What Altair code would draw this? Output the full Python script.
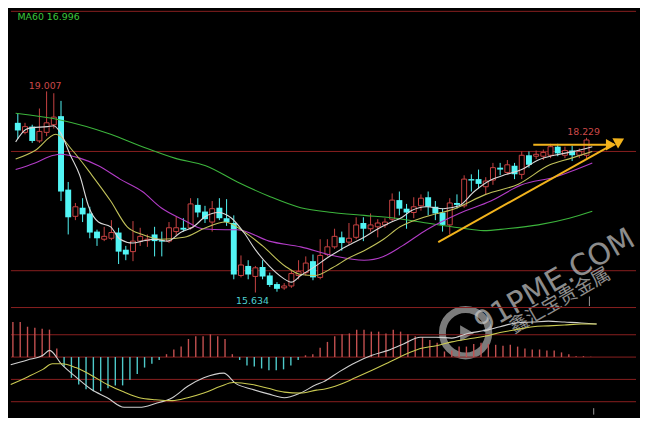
import altair as alt
import pandas as pd

# ---------------- data ----------------
opens = [18.48, 18.32, 18.416, 18.176, 18.32, 18.448, 18.592, 17.36, 16.912, 17.056,
         16.96, 16.656, 16.528, 16.544, 16.64, 16.352, 16.32, 16.496, 16.504, 16.608,
         16.512, 16.496, 16.656, 16.72, 16.72, 17.104, 16.992, 16.816, 17.056, 16.88,
         16.8, 15.92, 16.08, 15.904, 16.064, 15.92, 15.776, 15.712, 15.744, 15.92,
         15.968, 16.16, 15.888, 16.272, 16.4, 16.56, 16.48, 16.56, 16.8, 16.704,
         16.736, 16.768, 16.864, 17.184, 17.04, 16.976, 17.088, 17.232, 17.072, 16.976,
         16.768, 17.136, 17.088, 17.536, 17.536, 17.408, 17.52, 17.728, 17.648, 17.76,
         17.616, 17.936, 17.92, 17.92, 17.936, 18.08, 17.936, 18.016, 17.936, 17.936]
highs = [18.64, 18.48, 18.448, 18.72, 19.007, 18.976, 18.848, 17.488, 17.136, 17.216,
         17.072, 16.688, 16.736, 16.848, 16.72, 16.416, 16.832, 16.72, 16.608, 16.736,
         16.656, 16.816, 16.912, 16.88, 17.216, 17.216, 17.088, 17.168, 17.216, 17.2,
         16.928, 16.256, 16.176, 16.08, 16.176, 15.968, 15.808, 15.792, 16.016, 16.176,
         16.24, 16.272, 16.528, 16.528, 16.704, 16.656, 16.8, 16.896, 16.896, 16.96,
         16.864, 16.88, 17.296, 17.328, 17.12, 17.232, 17.28, 17.328, 17.168, 17.04,
         17.216, 17.28, 17.6, 17.616, 17.696, 17.568, 17.808, 17.808, 17.856, 17.808,
         18.0, 18.0, 18.016, 18.032, 18.128, 18.128, 18.08, 18.096, 18.048, 18.229]
lows = [18.208, 18.288, 18.144, 18.144, 18.256, 18.384, 17.168, 16.608, 16.848, 16.816,
        16.544, 16.416, 16.496, 16.512, 16.112, 16.176, 16.16, 16.416, 16.4, 16.24,
        16.24, 16.464, 16.576, 16.656, 16.688, 16.896, 16.8, 16.656, 16.848, 16.752,
        15.856, 15.888, 15.856, 15.634, 15.856, 15.728, 15.648, 15.68, 15.712, 15.856,
        15.92, 15.84, 15.856, 16.24, 16.368, 16.336, 16.432, 16.528, 16.496, 16.656,
        16.56, 16.72, 16.832, 16.928, 16.704, 16.88, 17.008, 16.928, 16.848, 16.656,
        16.608, 17.04, 17.056, 17.328, 17.376, 17.28, 17.44, 17.6, 17.616, 17.536,
        17.536, 17.728, 17.872, 17.856, 17.888, 17.92, 17.888, 17.84, 17.888, 17.888]
closes = [18.352, 18.416, 18.176, 18.336, 18.48, 18.576, 17.328, 16.896, 17.072, 16.944,
          16.64, 16.544, 16.576, 16.64, 16.32, 16.272, 16.496, 16.576, 16.528, 16.496,
          16.488, 16.72, 16.72, 16.688, 17.12, 16.976, 16.864, 17.04, 16.88, 16.816,
          15.936, 16.096, 15.936, 16.048, 15.904, 15.76, 15.696, 15.744, 15.952, 15.984,
          16.128, 15.888, 16.256, 16.4, 16.576, 16.464, 16.544, 16.768, 16.704, 16.768,
          16.8, 16.816, 17.184, 17.04, 16.976, 17.072, 17.216, 17.072, 16.96, 16.768,
          17.136, 17.104, 17.536, 17.512, 17.456, 17.504, 17.728, 17.696, 17.776, 17.616,
          17.936, 17.776, 17.952, 17.984, 18.08, 17.968, 18.016, 17.936, 18.0, 18.192]

macd_hist = [0.157, 0.157, 0.136, 0.131, 0.127, 0.123, 0.038, -0.042, -0.093, -0.123,
             -0.144, -0.153, -0.153, -0.140, -0.127, -0.127, -0.102, -0.076, -0.047, -0.030,
             -0.013, 0.013, 0.034, 0.047, 0.081, 0.093, 0.093, 0.102, 0.093, 0.081,
             0.013, -0.013, -0.038, -0.042, -0.051, -0.059, -0.059, -0.055, -0.038, -0.013,
             0.008, 0.013, 0.042, 0.068, 0.093, 0.102, 0.106, 0.123, 0.123, 0.114,
             0.114, 0.106, 0.123, 0.114, 0.102, 0.093, 0.089, 0.076, 0.064, 0.025,
             0.030, 0.047, 0.047, 0.059, 0.064, 0.059, 0.055, 0.051, 0.055, 0.047,
             0.038, 0.034, 0.034, 0.030, 0.030, 0.021, 0.013, 0.004, 0.004, 0.002]

# moving averages (bar index, value)
ma5 = [(-0.3, 18.16), (1.1, 18.368), (2.0, 18.4), (4.1, 18.416), (5.0, 18.432), (5.9, 18.32),
       (7.3, 17.936), (8.6, 17.6), (9.9, 17.056), (11.2, 16.816), (12.9, 16.736), (14.2, 16.528),
       (16.0, 16.464), (17.3, 16.496), (19.1, 16.528), (20.8, 16.496), (22.6, 16.64), (24.4, 16.736),
       (26.1, 16.912), (27.8, 16.976), (29.7, 16.88), (31.4, 16.64), (33.1, 16.336), (34.9, 16.08),
       (36.7, 15.888), (38.0, 15.808), (39.3, 15.92), (41.0, 16.048), (42.9, 16.208), (44.6, 16.336),
       (46.3, 16.448), (48.1, 16.56), (49.8, 16.688), (51.6, 16.8), (53.4, 16.896), (54.7, 17.008),
       (56.8, 17.072), (59.1, 17.04), (61.3, 17.088), (63.4, 17.328), (65.7, 17.52), (67.9, 17.616),
       (70.0, 17.696), (72.3, 17.856), (74.5, 17.936), (76.6, 17.984), (79.8, 18.08)]
ma10 = [(-0.3, 17.872), (2.4, 18.016), (5.3, 18.288), (7.6, 18.016), (10.3, 17.6), (12.9, 17.168),
        (15.2, 16.736), (17.3, 16.608), (19.9, 16.528), (23.1, 16.56), (26.1, 16.72), (28.8, 16.816),
        (31.4, 16.656), (34.0, 16.416), (37.1, 16.08), (39.3, 15.936), (41.3, 15.92), (43.7, 16.048),
        (45.9, 16.208), (48.1, 16.336), (50.8, 16.528), (53.1, 16.736), (56.4, 16.896), (60.7, 17.04),
        (65.0, 17.28), (69.6, 17.456), (73.9, 17.776), (76.9, 17.888), (79.8, 18.0)]
ma30 = [(-0.3, 17.696), (2.4, 17.808), (5.0, 17.936), (5.9, 17.952), (8.6, 17.888), (11.2, 17.76),
        (14.2, 17.536), (17.3, 17.328), (19.9, 17.056), (23.1, 16.848), (25.7, 16.704), (28.8, 16.688),
        (30.5, 16.688), (34.9, 16.496), (39.3, 16.4), (43.7, 16.256), (48.1, 16.176), (50.8, 16.24),
        (53.4, 16.416), (56.8, 16.688), (61.3, 16.96), (65.7, 17.168), (70.0, 17.44), (74.5, 17.568),
        (79.8, 17.808)]
ma60 = [(-0.3, 18.64), (5.9, 18.528), (12.9, 18.288), (17.3, 18.08), (21.8, 17.888), (26.1, 17.76),
        (30.5, 17.488), (34.9, 17.248), (39.3, 17.056), (43.7, 16.976), (48.1, 16.928), (52.5, 16.88),
        (56.8, 16.8), (61.3, 16.72), (64.7, 16.672), (67.9, 16.704), (72.3, 16.768), (76.6, 16.88),
        (79.8, 16.996)]

dif = [(-0.3, -0.034), (2.0, -0.013), (4.1, 0.008), (5.0, 0.030), (6.7, -0.034), (8.6, -0.089),
       (10.7, -0.144), (12.9, -0.182), (15.2, -0.225), (17.3, -0.225), (19.5, -0.208), (21.8, -0.182),
       (23.9, -0.131), (26.1, -0.093), (28.8, -0.072), (30.5, -0.119), (32.7, -0.144), (34.9, -0.165),
       (37.1, -0.182), (39.3, -0.161), (41.5, -0.123), (42.5, -0.110), (44.7, -0.064), (46.8, -0.025),
       (49.1, 0.008), (51.3, 0.030), (53.4, 0.059), (55.7, 0.089), (57.9, 0.089), (60.0, 0.085),
       (62.2, 0.106), (64.5, 0.119), (66.6, 0.136), (68.8, 0.153), (71.1, 0.157), (73.2, 0.161),
       (75.4, 0.157), (77.7, 0.153), (79.8, 0.148)]
dea = [(-0.3, -0.123), (2.0, -0.089), (4.1, -0.055), (5.4, -0.030), (6.7, -0.030), (8.6, -0.047),
       (10.7, -0.081), (12.9, -0.123), (15.2, -0.157), (17.3, -0.182), (19.5, -0.191), (21.8, -0.195),
       (23.9, -0.182), (26.1, -0.161), (28.4, -0.131), (30.1, -0.114), (32.7, -0.123), (34.9, -0.140),
       (37.1, -0.157), (39.3, -0.161), (41.5, -0.148), (42.5, -0.144), (44.7, -0.123), (46.8, -0.093),
       (49.1, -0.059), (51.3, -0.025), (53.4, 0.008), (55.7, 0.038), (57.9, 0.051), (60.0, 0.068),
       (62.2, 0.081), (64.5, 0.093), (66.6, 0.110), (68.8, 0.123), (71.1, 0.136), (73.2, 0.140),
       (75.4, 0.144), (77.7, 0.148), (79.8, 0.148)]

price_grid = [20.35, 18.0, 16.0]
macd_grid = [0.222, 0.1, 0.0, -0.1, -0.2]

labels = [("MA60 16.996", -0.05, 20.25, "#3cc83c", "left"),
          ("19.007", 3.8, 19.10, "#cc4848", "center"),
          ("15.634", 32.6, 15.49, "#4fd0d0", "center"),
          ("18.229", 78.6, 18.32, "#cc4848", "center")]

trend_up = [(58.4, 16.48), (82.8, 18.128)]
trend_flat = [(71.6, 18.112), (81.9, 18.112)]
arrow_heads = [(83.6, 18.176, 331), (82.4, 18.112, 0)]

# ---------------- styling ----------------
W, H_MAIN, H_MACD = 632, 300, 109
X_DOMAIN = [-0.264, 85.19]
PRICE_DOMAIN = [15.392, 20.368]
MACD_DOMAIN = [-0.2585, 0.2246]
GRID = "#8a1f1f"
RED = "#c84343"
CYAN = "#52f5f5"
ORANGE = "#f2b31c"
FONT = "DejaVu Sans"
MA_COLORS = {"MA5": "#d9d9d9", "MA10": "#c2c25a", "MA30": "#b23cc6", "MA60": "#3cb43c"}

xs = alt.Scale(domain=X_DOMAIN, nice=False, zero=False)
ys = alt.Scale(domain=PRICE_DOMAIN, nice=False, zero=False)
ms = alt.Scale(domain=MACD_DOMAIN, nice=False, zero=False)

n = len(opens)
cdf = pd.DataFrame({"idx": list(range(n)), "open": opens, "high": highs,
                    "low": lows, "close": closes})
cdf["dir"] = ["up" if c >= o else "down" for o, c in zip(opens, closes)]
cdf["col"] = [RED if d == "up" else CYAN for d in cdf["dir"]]
cdf["hist"] = macd_hist
cdf["zero"] = 0.0
cdf["hcol"] = ["#c45050" if h >= 0 else "#4ecaca" for h in macd_hist]

X = alt.X("idx:Q", scale=xs, axis=None)

# ---- main panel ----
grid_main = alt.Chart(pd.DataFrame({"p": price_grid})).mark_rule(
    color=GRID, strokeWidth=1).encode(y=alt.Y("p:Q", scale=ys, axis=None))

wicks = alt.Chart(cdf).mark_rule(strokeWidth=1).encode(
    x=X, y=alt.Y("low:Q", scale=ys, axis=None), y2="high:Q",
    color=alt.Color("col:N", scale=None))

bodies_up = alt.Chart(cdf).transform_filter("datum.dir == 'up'").mark_bar(
    size=5, fill="black", stroke=RED, strokeWidth=1).encode(
    x=X, y=alt.Y("open:Q", scale=ys, axis=None), y2="close:Q")

bodies_down = alt.Chart(cdf).transform_filter("datum.dir == 'down'").mark_bar(
    size=6, color=CYAN).encode(
    x=X, y=alt.Y("open:Q", scale=ys, axis=None), y2="close:Q")

ma_rows = []
for name, pts in [("MA60", ma60), ("MA30", ma30), ("MA10", ma10), ("MA5", ma5)]:
    for k, (i, v) in enumerate(pts):
        ma_rows.append({"series": name, "idx": i, "val": v, "order": k, "col": MA_COLORS[name]})
ma_df = pd.DataFrame(ma_rows)
ma_lines = alt.Chart(ma_df).mark_line(strokeWidth=1.1, interpolate="monotone").encode(
    x=X, y=alt.Y("val:Q", scale=ys, axis=None), order="order:Q",
    color=alt.Color("col:N", scale=None), detail="series:N")

lab_df = pd.DataFrame(labels, columns=["text", "idx", "p", "color", "align"])
labels_left = alt.Chart(lab_df).transform_filter("datum.align == 'left'").mark_text(
    font=FONT, fontSize=9.5, align="left", baseline="middle").encode(
    x=X, y=alt.Y("p:Q", scale=ys, axis=None), text="text:N",
    color=alt.Color("color:N", scale=None))
labels_center = alt.Chart(lab_df).transform_filter("datum.align == 'center'").mark_text(
    font=FONT, fontSize=9.5, align="center", baseline="middle").encode(
    x=X, y=alt.Y("p:Q", scale=ys, axis=None), text="text:N",
    color=alt.Color("color:N", scale=None))

tr_rows = [{"line": "up", "idx": i, "p": p, "o": k} for k, (i, p) in enumerate(trend_up)] + \
          [{"line": "flat", "idx": i, "p": p, "o": k} for k, (i, p) in enumerate(trend_flat)]
trend = alt.Chart(pd.DataFrame(tr_rows)).mark_line(color=ORANGE, strokeWidth=2).encode(
    x=X, y=alt.Y("p:Q", scale=ys, axis=None), detail="line:N", order="o:Q")
heads = alt.Chart(pd.DataFrame(arrow_heads, columns=["idx", "p", "ang"])).mark_point(
    shape="triangle-right", filled=True, size=140, color=ORANGE, opacity=1).encode(
    x=X, y=alt.Y("p:Q", scale=ys, axis=None), angle=alt.Angle("ang:Q", scale=None))

marker_main = alt.Chart(pd.DataFrame({"idx": [79.4], "a": [15.408], "b": [15.568]})).mark_rule(
    color="#9a9a9a").encode(x=X, y=alt.Y("a:Q", scale=ys, axis=None), y2="b:Q")

# watermark
wm = pd.DataFrame({"idx": [74.6], "p": [15.82], "t": ["91PME.COM"]})
wm_text = alt.Chart(wm).mark_text(font=FONT, fontSize=30, angle=330, color="#c8c8c8",
                                  opacity=0.7, align="center", baseline="middle").encode(
    x=X, y=alt.Y("p:Q", scale=ys, axis=None), text="t:N")
wm2 = pd.DataFrame({"idx": [75.3], "p": [15.50], "t": ["鑫汇宝贵金属"]})
wm_cn = alt.Chart(wm2).mark_text(font="Noto Sans CJK SC", fontSize=19, angle=330, color="#c8c8c8",
                                 opacity=0.7, align="center", baseline="middle").encode(
    x=X, y=alt.Y("p:Q", scale=ys, axis=None), text="t:N")
ring = alt.Chart(pd.DataFrame({"idx": [62.2], "p": [14.96]})).mark_point(
    shape="circle", size=2200, filled=False, strokeWidth=7, color="#b0b0b0", opacity=0.7).encode(
    x=X, y=alt.Y("p:Q", scale=ys, axis=None))
play = alt.Chart(pd.DataFrame({"idx": [62.4], "p": [14.95]})).mark_point(
    shape="triangle-right", size=260, filled=True, color="#b0b0b0", opacity=0.7).encode(
    x=X, y=alt.Y("p:Q", scale=ys, axis=None))

main = alt.layer(grid_main, wicks, bodies_up, bodies_down, ma_lines, trend, heads,
                 labels_left, labels_center, marker_main,
                 ring, play, wm_text, wm_cn).properties(width=W, height=H_MAIN)

# ---- MACD panel ----
grid_macd = alt.Chart(pd.DataFrame({"m": macd_grid})).mark_rule(
    color=GRID, strokeWidth=1).encode(y=alt.Y("m:Q", scale=ms, axis=None))
hist = alt.Chart(cdf).mark_rule(strokeWidth=1.4).encode(
    x=X, y=alt.Y("zero:Q", scale=ms, axis=None), y2="hist:Q",
    color=alt.Color("hcol:N", scale=None))
ml_rows = [{"s": "DIF", "idx": i, "m": v, "o": k, "col": "#d0d0d0"} for k, (i, v) in enumerate(dif)] + \
          [{"s": "DEA", "idx": i, "m": v, "o": k, "col": "#caca52"} for k, (i, v) in enumerate(dea)]
macd_lines = alt.Chart(pd.DataFrame(ml_rows)).mark_line(strokeWidth=1.1, interpolate="monotone").encode(
    x=X, y=alt.Y("m:Q", scale=ms, axis=None), order="o:Q", detail="s:N",
    color=alt.Color("col:N", scale=None))
marker_macd = alt.Chart(pd.DataFrame({"idx": [79.4], "a": [-0.229], "b": [-0.258]})).mark_rule(
    color="#9a9a9a").encode(x=X, y=alt.Y("a:Q", scale=ms, axis=None), y2="b:Q")

macd = alt.layer(grid_macd, hist, macd_lines, marker_macd).properties(width=W, height=H_MACD)

chart = alt.vconcat(main, macd, spacing=0).properties(
    background="black", padding=0, bounds="flush"
).configure_view(stroke=None)

chart.save("out.html", embed_options={"renderer": "svg", "actions": False})
